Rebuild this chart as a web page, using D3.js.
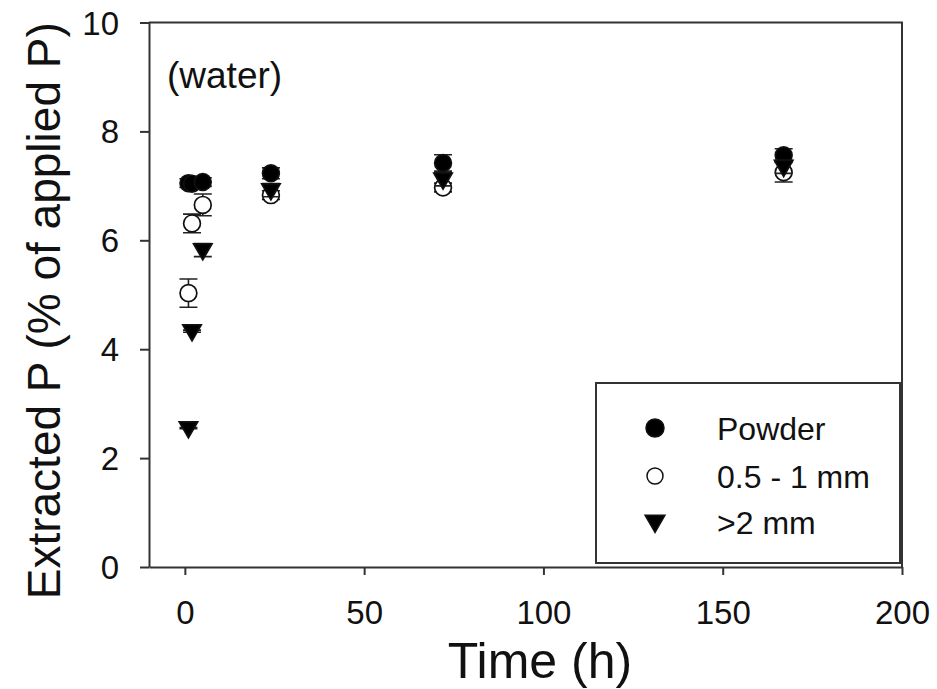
<!DOCTYPE html>
<html>
<head>
<meta charset="utf-8">
<script src="https://cdn.jsdelivr.net/npm/d3@7"></script>
<style>
  body { margin: 0; background: #fff; }
  text { font-family: "Liberation Sans", Arial, sans-serif; fill: #111; }
</style>
</head>
<body>
<svg id="chart" width="937" height="689"></svg>
<script>
// sampling times (h)
var times = [1, 2, 5, 24, 72, 167];

// extracted P, % of applied P
var powder    = [7.05, 7.04, 7.07, 7.23, 7.42, 7.56];
var powderErr = [0.08, 0.08, 0.08, 0.10, 0.15, 0.12];
var medium    = [5.03, 6.31, 6.65, 6.83, 6.97, 7.25];
var mediumErr = [0.26, 0.17, 0.20, 0.08, 0.08, 0.18];
var coarse    = [2.55, 4.33, 5.82, 6.92, 7.12, 7.35];
var coarseErr = [0.01, 0.02, 0.12, 0.12, 0.12, 0.12];

var seriesNames = ["Powder", "0.5 - 1 mm", ">2 mm"];
var xTicks = [0, 50, 100, 150, 200];
var yTicks = [0, 2, 4, 6, 8, 10];

var svg = d3.select("#chart"),
    width = +svg.attr("width"),
    height = +svg.attr("height");

var margin = {left: 149, right: 35, top: 22.5, bottom: 122};

var x = d3.scaleLinear().domain([-10, 200]).range([margin.left, width - margin.right]);
var y = d3.scaleLinear().domain([0, 10]).range([height - margin.bottom, margin.top]);

// frame (top + right)
svg.append("path")
    .attr("d", "M" + x(-10) + "," + y(10) + "H" + x(200) + "V" + y(0))
    .attr("fill", "none")
    .attr("stroke", "#333")
    .attr("stroke-width", 2);

var xAxis = svg.append("g")
    .attr("transform", "translate(0," + y(0) + ")")
    .call(d3.axisBottom(x).tickValues(xTicks).tickSize(8).tickSizeOuter(0).tickPadding(26));

var yAxis = svg.append("g")
    .attr("transform", "translate(" + x(-10) + ",0)")
    .call(d3.axisLeft(y).tickValues(yTicks).tickSize(9).tickSizeOuter(0).tickPadding(21));

[xAxis, yAxis].forEach(function(g) {
    g.select(".domain").attr("stroke", "#333").attr("stroke-width", 2);
    g.selectAll(".tick line").attr("stroke", "#333").attr("stroke-width", 2);
    g.selectAll(".tick text")
        .attr("font-family", "Liberation Sans, Arial, sans-serif")
        .attr("font-size", 33)
        .attr("fill", "#111");
});
yAxis.selectAll(".tick text").attr("dy", "0.35em");

// axis titles
svg.append("text")
    .attr("x", 540)
    .attr("y", 678)
    .attr("text-anchor", "middle")
    .attr("font-size", 50)
    .text("Time (h)");

svg.append("text")
    .attr("transform", "translate(60," + ((y(0) + y(10)) / 2 + 16) + ") rotate(-90)")
    .attr("text-anchor", "middle")
    .attr("font-size", 46)
    .text("Extracted P (% of applied P)");

svg.append("text")
    .attr("x", 167)
    .attr("y", 88)
    .attr("font-size", 37)
    .text("(water)");

var series = [
    {name: seriesNames[0], vals: powder, err: powderErr, shape: "circle", fill: "#000"},
    {name: seriesNames[1], vals: medium, err: mediumErr, shape: "circle", fill: "#fff"},
    {name: seriesNames[2], vals: coarse, err: coarseErr, shape: "triangle", fill: "#000"}
];

function symbolPath(shape, r) {
    if (shape === "circle") return d3.symbol(d3.symbolCircle, Math.PI * r * r)();
    // equilateral triangle with side ~ 2.2 r
    var side = 2.2 * r;
    return d3.symbol(d3.symbolTriangle, Math.sqrt(3) / 4 * side * side)();
}
function symbolTransform(shape, px, py) {
    if (shape === "triangle") return "translate(" + px + "," + (py - 1) + ") rotate(180)";
    return "translate(" + px + "," + py + ")";
}

var capW = 9;
series.forEach(function(s) {
    var g = svg.append("g");
    var pts = times.map(function(t, i) { return {t: t, v: s.vals[i], e: s.err[i]}; });

    // error bars
    g.selectAll("path.err")
        .data(pts)
        .enter().append("path")
        .attr("class", "err")
        .attr("d", function(d) {
            var px = x(d.t), y1 = y(d.v + d.e), y2 = y(d.v - d.e);
            return "M" + px + "," + y1 + "V" + y2 +
                "M" + (px - capW) + "," + y1 + "H" + (px + capW) +
                "M" + (px - capW) + "," + y2 + "H" + (px + capW);
        })
        .attr("stroke", "#222")
        .attr("stroke-width", 1.6)
        .attr("fill", "none");

    g.selectAll("path.mark")
        .data(pts)
        .enter().append("path")
        .attr("class", "mark")
        .attr("d", symbolPath(s.shape, 8.4))
        .attr("transform", function(d) { return symbolTransform(s.shape, x(d.t), y(d.v)); })
        .attr("fill", s.fill)
        .attr("stroke", "#111")
        .attr("stroke-width", 1.7);
});

// legend
var legend = svg.append("g");
legend.append("rect")
    .attr("x", 596).attr("y", 383)
    .attr("width", 304).attr("height", 180)
    .attr("fill", "#fff")
    .attr("stroke", "#333")
    .attr("stroke-width", 2);

var rowsY = [428, 476, 522];
series.forEach(function(s, i) {
    legend.append("path")
        .attr("d", symbolPath(s.shape, s.fill === "#fff" ? 8 : 9))
        .attr("transform", symbolTransform(s.shape, 655, rowsY[i]))
        .attr("fill", s.fill)
        .attr("stroke", "#111")
        .attr("stroke-width", 1.5);
    legend.append("text")
        .attr("x", 717)
        .attr("y", rowsY[i])
        .attr("dy", "0.36em")
        .attr("font-family", "Lato, 'Open Sans', sans-serif")
        .attr("font-size", 32)
        .text(s.name);
});
</script>
</body>
</html>
